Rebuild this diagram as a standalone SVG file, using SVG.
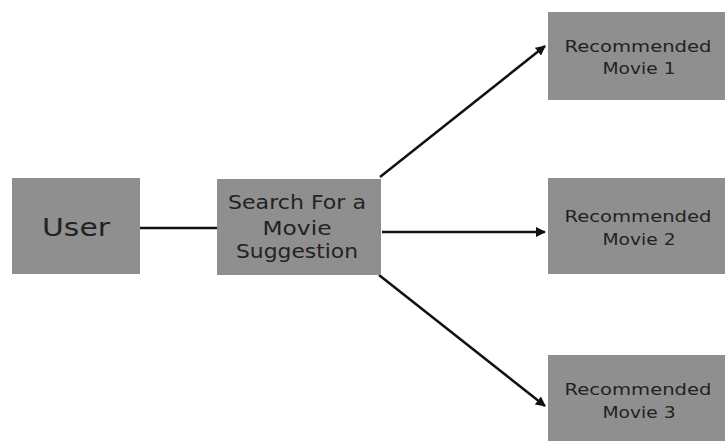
<svg xmlns="http://www.w3.org/2000/svg" width="725" height="441" viewBox="0 0 725 441">
<defs>
<style>
.box{fill:#8f8f8f;}
.t{font-family:"DejaVu Sans","Open Sans",sans-serif;fill:#222;text-anchor:middle;}
.c{stroke:#111;stroke-width:2.5;fill:none;}
</style>
<marker id="ah" viewBox="0 0 10 10" refX="9" refY="5" markerWidth="4" markerHeight="4" orient="auto" markerUnits="strokeWidth">
<path d="M0,0 L10,5 L0,10 z" fill="#111"/>
</marker>
</defs>
<rect width="725" height="441" fill="#fff"/>
<g id="connectors">
<line class="c" x1="140" y1="228" x2="217" y2="228"/>
<line class="c" x1="380" y1="177" x2="545" y2="46" marker-end="url(#ah)"/>
<line class="c" x1="382" y1="232" x2="545" y2="232" marker-end="url(#ah)"/>
<line class="c" x1="379" y1="275" x2="545" y2="406" marker-end="url(#ah)"/>
</g>
<g id="user">
<rect class="box" x="12" y="178" width="128" height="96"/>
<text class="t" x="76" y="236" font-size="24" textLength="68" lengthAdjust="spacingAndGlyphs">User</text>
</g>
<g id="search">
<rect class="box" x="217" y="179" width="164" height="96"/>
<text class="t" x="297" y="209" font-size="20" textLength="138" lengthAdjust="spacingAndGlyphs">Search For a</text>
<text class="t" x="297" y="235" font-size="20" textLength="69" lengthAdjust="spacingAndGlyphs">Movie</text>
<text class="t" x="297" y="258" font-size="20" textLength="122" lengthAdjust="spacingAndGlyphs">Suggestion</text>
</g>
<g id="movie1">
<rect class="box" x="548" y="12" width="177" height="88"/>
<text class="t" x="638" y="52" font-size="16.5" textLength="147" lengthAdjust="spacingAndGlyphs">Recommended</text>
<text class="t" x="639" y="74" font-size="16.5" textLength="73" lengthAdjust="spacingAndGlyphs">Movie 1</text>
</g>
<g id="movie2">
<rect class="box" x="548" y="178" width="177" height="96"/>
<text class="t" x="638" y="222" font-size="16.5" textLength="147" lengthAdjust="spacingAndGlyphs">Recommended</text>
<text class="t" x="639" y="245" font-size="16.5" textLength="73" lengthAdjust="spacingAndGlyphs">Movie 2</text>
</g>
<g id="movie3">
<rect class="box" x="548" y="355" width="177" height="86"/>
<text class="t" x="638" y="395" font-size="16.5" textLength="147" lengthAdjust="spacingAndGlyphs">Recommended</text>
<text class="t" x="639" y="418" font-size="16.5" textLength="73" lengthAdjust="spacingAndGlyphs">Movie 3</text>
</g>
</svg>
